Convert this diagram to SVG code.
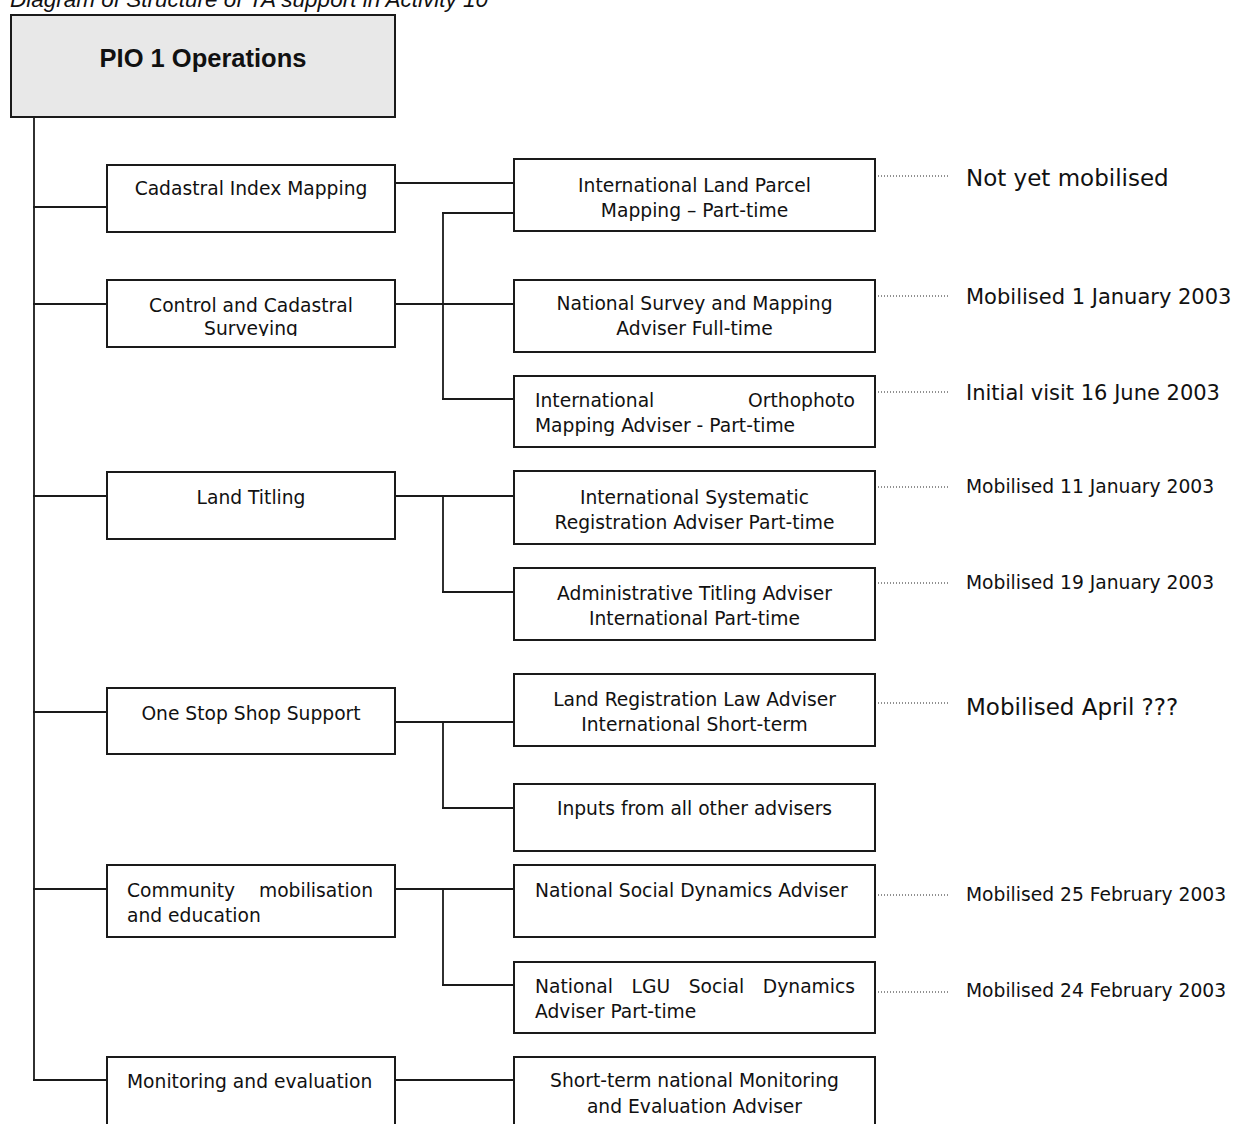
<svg xmlns="http://www.w3.org/2000/svg" width="1237" height="1124" viewBox="0 0 1237 1124">
<style>
.box{fill:#fff;stroke:#1a1a1a;stroke-width:2}
.hdr{fill:#e8e8e8;stroke:#1a1a1a;stroke-width:2}
.t{font-family:"DejaVu Sans",Verdana,sans-serif;font-size:18.7px;fill:#111}
.c{text-anchor:middle}
.e{text-anchor:end}
.big{font-size:23px}
.mid{font-size:21px}
.conn line{stroke:#1a1a1a;stroke-width:1.8}
.dots line{stroke:#222;stroke-width:1.2;stroke-dasharray:1 2}
</style>
<defs>
<clipPath id="clipSurvey"><rect x="107" y="280" width="288" height="56"/></clipPath>
</defs>
<rect width="1237" height="1124" fill="#fff"/>
<text x="10" y="7" style="font-family:'Liberation Sans',Arial,sans-serif;font-style:italic;font-size:22.5px;fill:#111">Diagram of Structure of TA support in Activity 10</text>

<g class="conn" id="connectors">
<line x1="34" y1="117" x2="34" y2="1081"/>
<line x1="33" y1="207" x2="107" y2="207"/>
<line x1="33" y1="304" x2="107" y2="304"/>
<line x1="33" y1="496" x2="107" y2="496"/>
<line x1="33" y1="712" x2="107" y2="712"/>
<line x1="33" y1="889" x2="107" y2="889"/>
<line x1="33" y1="1080" x2="107" y2="1080"/>
<line x1="395" y1="183" x2="514" y2="183"/>
<line x1="395" y1="304" x2="514" y2="304"/>
<line x1="443" y1="212" x2="443" y2="400"/>
<line x1="442" y1="213" x2="514" y2="213"/>
<line x1="442" y1="399" x2="514" y2="399"/>
<line x1="395" y1="496" x2="514" y2="496"/>
<line x1="443" y1="495" x2="443" y2="593"/>
<line x1="442" y1="592" x2="514" y2="592"/>
<line x1="395" y1="722" x2="514" y2="722"/>
<line x1="443" y1="721" x2="443" y2="809"/>
<line x1="442" y1="808" x2="514" y2="808"/>
<line x1="395" y1="889" x2="514" y2="889"/>
<line x1="443" y1="888" x2="443" y2="986"/>
<line x1="442" y1="985" x2="514" y2="985"/>
<line x1="395" y1="1080" x2="514" y2="1080"/>
</g>

<g class="dots" id="leaders">
<line x1="878" y1="176" x2="948" y2="176"/>
<line x1="878" y1="296" x2="948" y2="296"/>
<line x1="878" y1="392" x2="948" y2="392"/>
<line x1="878" y1="487" x2="948" y2="487"/>
<line x1="878" y1="583" x2="948" y2="583"/>
<line x1="878" y1="703" x2="948" y2="703"/>
<line x1="878" y1="895" x2="948" y2="895"/>
<line x1="878" y1="992" x2="948" y2="992"/>
</g>

<g id="pio1">
<rect class="hdr" x="11" y="15" width="384" height="102"/>
<text x="203" y="67" text-anchor="middle" style="font-family:'Liberation Sans',Arial,sans-serif;font-weight:bold;font-size:25.5px;fill:#111">PIO 1 Operations</text>
</g>

<g id="cadastral">
<rect class="box" x="107" y="165" width="288" height="67"/>
<text class="t c" x="251" y="195">Cadastral Index Mapping</text>
</g>
<g id="control">
<rect class="box" x="107" y="280" width="288" height="67"/>
<text class="t c" x="251" y="312" clip-path="url(#clipSurvey)">Control and Cadastral<tspan x="251" y="335">Surveying</tspan></text>
</g>
<g id="titling">
<rect class="box" x="107" y="472" width="288" height="67"/>
<text class="t c" x="251" y="504">Land Titling</text>
</g>
<g id="onestop">
<rect class="box" x="107" y="688" width="288" height="66"/>
<text class="t c" x="251" y="720">One Stop Shop Support</text>
</g>
<g id="community">
<rect class="box" x="107" y="865" width="288" height="72"/>
<text class="t" x="127" y="897">Community</text>
<text class="t e" x="373" y="897">mobilisation</text>
<text class="t" x="127" y="922">and education</text>
</g>
<g id="monitoring">
<rect class="box" x="107" y="1057" width="288" height="80"/>
<text class="t" x="127" y="1088">Monitoring and evaluation</text>
</g>

<g id="parcel">
<rect class="box" x="514" y="159" width="361" height="72"/>
<text class="t c" x="694.5" y="192">International Land Parcel<tspan x="694.5" y="217">Mapping – Part-time</tspan></text>
</g>
<g id="survey">
<rect class="box" x="514" y="280" width="361" height="72"/>
<text class="t c" x="694.5" y="310">National Survey and Mapping<tspan x="694.5" y="335">Adviser Full-time</tspan></text>
</g>
<g id="ortho">
<rect class="box" x="514" y="376" width="361" height="71"/>
<text class="t" x="535" y="407">International</text>
<text class="t e" x="855" y="407">Orthophoto</text>
<text class="t" x="535" y="432">Mapping Adviser - Part-time</text>
</g>
<g id="systematic">
<rect class="box" x="514" y="471" width="361" height="73"/>
<text class="t c" x="694.5" y="504">International Systematic<tspan x="694.5" y="529">Registration Adviser Part-time</tspan></text>
</g>
<g id="admin">
<rect class="box" x="514" y="568" width="361" height="72"/>
<text class="t c" x="694.5" y="600">Administrative Titling Adviser<tspan x="694.5" y="625">International Part-time</tspan></text>
</g>
<g id="lawadviser">
<rect class="box" x="514" y="674" width="361" height="72"/>
<text class="t c" x="694.5" y="706">Land Registration Law Adviser<tspan x="694.5" y="731">International Short-term</tspan></text>
</g>
<g id="inputs">
<rect class="box" x="514" y="784" width="361" height="67"/>
<text class="t c" x="694.5" y="815">Inputs from all other advisers</text>
</g>
<g id="social">
<rect class="box" x="514" y="865" width="361" height="72"/>
<text class="t" x="535" y="897">National Social Dynamics Adviser</text>
</g>
<g id="lgu">
<rect class="box" x="514" y="962" width="361" height="71"/>
<text class="t" x="535" y="993">National</text>
<text class="t" x="631.5" y="993">LGU</text>
<text class="t" x="688.7" y="993">Social</text>
<text class="t e" x="855" y="993">Dynamics</text>
<text class="t" x="535" y="1018">Adviser Part-time</text>
</g>
<g id="shortterm">
<rect class="box" x="514" y="1057" width="361" height="80"/>
<text class="t c" x="694.5" y="1087">Short-term national Monitoring<tspan x="694.5" y="1113">and Evaluation Adviser</tspan></text>
</g>

<g id="status">
<text class="t big" x="966" y="186">Not yet mobilised</text>
<text class="t mid" x="966" y="304">Mobilised 1 January 2003</text>
<text class="t mid" x="966" y="400">Initial visit 16 June 2003</text>
<text class="t" x="966" y="493">Mobilised 11 January 2003</text>
<text class="t" x="966" y="589">Mobilised 19 January 2003</text>
<text class="t big" x="966" y="715">Mobilised April ???</text>
<text class="t" x="966" y="901">Mobilised 25 February 2003</text>
<text class="t" x="966" y="997">Mobilised 24 February 2003</text>
</g>
</svg>
